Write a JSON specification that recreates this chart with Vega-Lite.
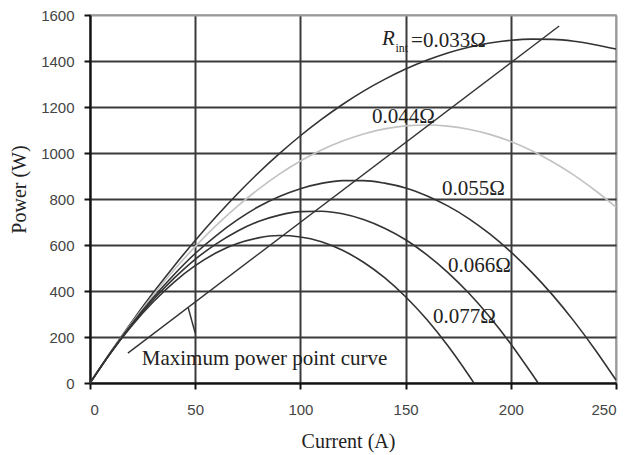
{
  "$schema": "https://vega.github.io/schema/vega-lite/v6.json",
  "width": 526,
  "height": 368,
  "autosize": {"type": "none"},
  "padding": {"left": 90, "top": 15, "right": 16, "bottom": 72},
  "background": "white",
  "config": {
    "view": {"stroke": "#9a9a9a", "strokeWidth": 1.5},
    "font": "Liberation Serif"
  },
  "datasets": {
    "curves": [
      {"r": "0.033", "current": 0, "power": 0}, {"r": "0.033", "current": 10, "power": 137}, {"r": "0.033", "current": 20, "power": 268}, {"r": "0.033", "current": 30, "power": 392}, {"r": "0.033", "current": 40, "power": 509}, {"r": "0.033", "current": 50, "power": 620}, {"r": "0.033", "current": 60, "power": 724}, {"r": "0.033", "current": 70, "power": 822}, {"r": "0.033", "current": 80, "power": 913}, {"r": "0.033", "current": 90, "power": 997}, {"r": "0.033", "current": 100, "power": 1075}, {"r": "0.033", "current": 110, "power": 1146}, {"r": "0.033", "current": 120, "power": 1211}, {"r": "0.033", "current": 130, "power": 1269}, {"r": "0.033", "current": 140, "power": 1320}, {"r": "0.033", "current": 150, "power": 1365}, {"r": "0.033", "current": 160, "power": 1403}, {"r": "0.033", "current": 170, "power": 1435}, {"r": "0.033", "current": 180, "power": 1460}, {"r": "0.033", "current": 190, "power": 1478}, {"r": "0.033", "current": 200, "power": 1490}, {"r": "0.033", "current": 210, "power": 1495}, {"r": "0.033", "current": 220, "power": 1494}, {"r": "0.033", "current": 230, "power": 1486}, {"r": "0.033", "current": 240, "power": 1471}, {"r": "0.033", "current": 250, "power": 1452},
      {"r": "0.044", "current": 0, "power": 0}, {"r": "0.044", "current": 10, "power": 136}, {"r": "0.044", "current": 20, "power": 263}, {"r": "0.044", "current": 30, "power": 382}, {"r": "0.044", "current": 40, "power": 492}, {"r": "0.044", "current": 50, "power": 593}, {"r": "0.044", "current": 60, "power": 685}, {"r": "0.044", "current": 70, "power": 768}, {"r": "0.044", "current": 80, "power": 842}, {"r": "0.044", "current": 90, "power": 908}, {"r": "0.044", "current": 100, "power": 965}, {"r": "0.044", "current": 110, "power": 1013}, {"r": "0.044", "current": 120, "power": 1052}, {"r": "0.044", "current": 130, "power": 1083}, {"r": "0.044", "current": 140, "power": 1105}, {"r": "0.044", "current": 150, "power": 1118}, {"r": "0.044", "current": 160, "power": 1122}, {"r": "0.044", "current": 170, "power": 1117}, {"r": "0.044", "current": 180, "power": 1103}, {"r": "0.044", "current": 190, "power": 1081}, {"r": "0.044", "current": 200, "power": 1050}, {"r": "0.044", "current": 210, "power": 1010}, {"r": "0.044", "current": 220, "power": 961}, {"r": "0.044", "current": 230, "power": 904}, {"r": "0.044", "current": 240, "power": 838}, {"r": "0.044", "current": 250, "power": 765},
      {"r": "0.055", "current": 0, "power": 0}, {"r": "0.055", "current": 10, "power": 135}, {"r": "0.055", "current": 20, "power": 259}, {"r": "0.055", "current": 30, "power": 371}, {"r": "0.055", "current": 40, "power": 472}, {"r": "0.055", "current": 50, "power": 563}, {"r": "0.055", "current": 60, "power": 641}, {"r": "0.055", "current": 70, "power": 709}, {"r": "0.055", "current": 80, "power": 766}, {"r": "0.055", "current": 90, "power": 811}, {"r": "0.055", "current": 100, "power": 845}, {"r": "0.055", "current": 110, "power": 868}, {"r": "0.055", "current": 120, "power": 880}, {"r": "0.055", "current": 130, "power": 880}, {"r": "0.055", "current": 140, "power": 869}, {"r": "0.055", "current": 150, "power": 848}, {"r": "0.055", "current": 160, "power": 814}, {"r": "0.055", "current": 170, "power": 770}, {"r": "0.055", "current": 180, "power": 715}, {"r": "0.055", "current": 190, "power": 648}, {"r": "0.055", "current": 200, "power": 570}, {"r": "0.055", "current": 210, "power": 481}, {"r": "0.055", "current": 220, "power": 381}, {"r": "0.055", "current": 230, "power": 269}, {"r": "0.055", "current": 240, "power": 146}, {"r": "0.055", "current": 250, "power": 13},
      {"r": "0.066", "current": 0, "power": 0}, {"r": "0.066", "current": 10, "power": 134}, {"r": "0.066", "current": 20, "power": 255}, {"r": "0.066", "current": 30, "power": 362}, {"r": "0.066", "current": 40, "power": 456}, {"r": "0.066", "current": 50, "power": 538}, {"r": "0.066", "current": 60, "power": 605}, {"r": "0.066", "current": 70, "power": 660}, {"r": "0.066", "current": 80, "power": 702}, {"r": "0.066", "current": 90, "power": 730}, {"r": "0.066", "current": 100, "power": 745}, {"r": "0.066", "current": 110, "power": 747}, {"r": "0.066", "current": 120, "power": 736}, {"r": "0.066", "current": 130, "power": 711}, {"r": "0.066", "current": 140, "power": 673}, {"r": "0.066", "current": 150, "power": 623}, {"r": "0.066", "current": 160, "power": 558}, {"r": "0.066", "current": 170, "power": 481}, {"r": "0.066", "current": 180, "power": 391}, {"r": "0.066", "current": 190, "power": 287}, {"r": "0.066", "current": 200, "power": 170}, {"r": "0.066", "current": 210, "power": 40}, {"r": "0.066", "current": 213, "power": 0},
      {"r": "0.077", "current": 0, "power": 0}, {"r": "0.077", "current": 10, "power": 133}, {"r": "0.077", "current": 20, "power": 250}, {"r": "0.077", "current": 30, "power": 352}, {"r": "0.077", "current": 40, "power": 439}, {"r": "0.077", "current": 50, "power": 510}, {"r": "0.077", "current": 60, "power": 566}, {"r": "0.077", "current": 70, "power": 606}, {"r": "0.077", "current": 80, "power": 631}, {"r": "0.077", "current": 90, "power": 641}, {"r": "0.077", "current": 100, "power": 635}, {"r": "0.077", "current": 110, "power": 614}, {"r": "0.077", "current": 120, "power": 577}, {"r": "0.077", "current": 130, "power": 525}, {"r": "0.077", "current": 140, "power": 458}, {"r": "0.077", "current": 150, "power": 375}, {"r": "0.077", "current": 160, "power": 277}, {"r": "0.077", "current": 170, "power": 163}, {"r": "0.077", "current": 180, "power": 34}, {"r": "0.077", "current": 182.5, "power": 0}
    ],
    "mpp": [
      {"current": 18, "power": 130},
      {"current": 223, "power": 1552}
    ],
    "labels": [
      {"current": 152.6, "power": 1462, "label": "=0.033Ω"},
      {"current": 134, "power": 1130, "label": "0.044Ω"},
      {"current": 167.3, "power": 817, "label": "0.055Ω"},
      {"current": 170.2, "power": 483, "label": "0.066Ω"},
      {"current": 163, "power": 261, "label": "0.077Ω"},
      {"current": 24.6, "power": 78, "label": "Maximum power point curve"}
    ]
  },
  "encoding": {
    "x": {
      "field": "current", "type": "quantitative",
      "scale": {"domain": [0, 250], "nice": false, "zero": false},
      "axis": {
        "values": [0, 50, 100, 150, 200, 250],
        "format": "d",
        "grid": true,
        "gridColor": {"condition": {"test": "datum.value === 250", "value": "#9a9a9a"}, "value": "#3a3a3a"},
        "gridWidth": 2,
        "domainColor": "#111", "domainWidth": 2,
        "tickColor": "#111", "tickWidth": 2, "tickSize": 6,
        "labelFont": "Liberation Sans", "labelFontSize": 15, "labelColor": "#444", "labelPadding": 13,
        "title": "Current (A)",
        "titleFont": "Liberation Serif", "titleFontSize": 20, "titleFontWeight": "normal", "titleColor": "#222",
        "titleX": 258, "titleY": 64, "titleBaseline": "alphabetic", "titleAlign": "center"
      }
    },
    "y": {
      "field": "power", "type": "quantitative",
      "scale": {"domain": [0, 1600], "nice": false},
      "axis": {
        "values": [0, 200, 400, 600, 800, 1000, 1200, 1400, 1600],
        "format": "d",
        "grid": true,
        "gridColor": {"condition": {"test": "datum.value === 1600", "value": "#9a9a9a"}, "value": "#3a3a3a"},
        "gridWidth": 2,
        "domainColor": "#111", "domainWidth": 2,
        "tickColor": "#111", "tickWidth": 2, "tickSize": 6,
        "labelFont": "Liberation Sans", "labelFontSize": 15, "labelColor": "#444", "labelPadding": 10,
        "title": "Power (W)",
        "titleFont": "Liberation Serif", "titleFontSize": 20, "titleFontWeight": "normal", "titleColor": "#222",
        "titleX": -65, "titleY": 174, "titleBaseline": "alphabetic", "titleAlign": "center"
      }
    }
  },
  "layer": [
    {
      "data": {"name": "curves"},
      "mark": {"type": "line", "interpolate": "monotone", "strokeWidth": 1.6},
      "encoding": {
        "color": {
          "field": "r", "type": "nominal",
          "scale": {"domain": ["0.033", "0.044", "0.055", "0.066", "0.077"], "range": ["#333333", "#c2c2c2", "#333333", "#333333", "#333333"]},
          "legend": null
        }
      }
    },
    {
      "data": {"name": "mpp"},
      "mark": {"type": "line", "color": "#333333", "strokeWidth": 1.4},
      "encoding": {}
    },
    {
      "data": {"values": [{"current": 50, "power": 217, "current2": 46.6, "power2": 330}]},
      "mark": {"type": "rule", "color": "#333333", "strokeWidth": 1.5},
      "encoding": {
        "x2": {"field": "current2"},
        "y2": {"field": "power2"}
      }
    },
    {
      "data": {"name": "labels"},
      "mark": {"type": "text", "align": "left", "baseline": "alphabetic", "font": "Liberation Serif", "fontSize": 21, "color": "#222"},
      "encoding": {"text": {"field": "label"}}
    },
    {
      "data": {"values": [{"current": 138.8, "power": 1468, "label": "R"}]},
      "mark": {"type": "text", "align": "left", "baseline": "alphabetic", "font": "Liberation Serif", "fontSize": 21, "fontStyle": "italic", "color": "#222"},
      "encoding": {"text": {"field": "label"}}
    },
    {
      "data": {"values": [{"current": 145.2, "power": 1440, "label": "int"}]},
      "mark": {"type": "text", "align": "left", "baseline": "alphabetic", "font": "Liberation Serif", "fontSize": 12, "color": "#222"},
      "encoding": {"text": {"field": "label"}}
    }
  ]
}
